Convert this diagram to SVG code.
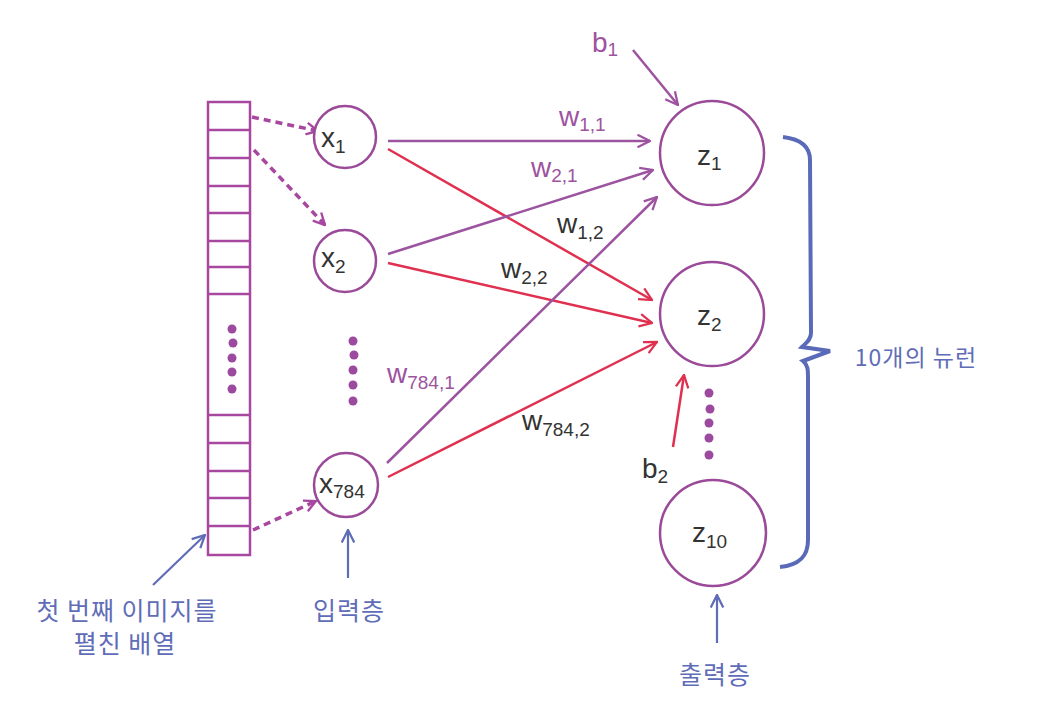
<svg xmlns="http://www.w3.org/2000/svg" width="1048" height="728" viewBox="0 0 1048 728">
<defs>
<style>
.node{fill:#fff;stroke:#9a4a98;stroke-width:2.5}
.cell{fill:none;stroke:#a8479f;stroke-width:2.5}
.pl{stroke:#9c53a0;stroke-width:2.5;fill:none}
.rl{stroke:#e0304f;stroke-width:2.5;fill:none}
.bl{stroke:#5f6db8;stroke-width:2.2;fill:none}
.dash{stroke:#a8479f;stroke-width:3.5;fill:none;stroke-dasharray:7 5}
.dot{fill:#9c4aa0}
.t{font-family:"Liberation Sans",Arial,sans-serif;font-size:28px;fill:#333}
.s{font-size:19px}
.tp{fill:#9c53a0}
.kr{font-family:"Noto Sans CJK KR","Noto Sans",sans-serif;font-size:25px;fill:#5f6db8;text-anchor:middle;letter-spacing:1px}
</style>
<marker id="ap" viewBox="0 0 12 12" refX="11" refY="6" markerWidth="15" markerHeight="15" markerUnits="userSpaceOnUse" orient="auto"><path d="M1,1 L11,6 L1,11" fill="none" stroke="#9c53a0" stroke-width="1.8"/></marker>
<marker id="ar" viewBox="0 0 12 12" refX="11" refY="6" markerWidth="15" markerHeight="15" markerUnits="userSpaceOnUse" orient="auto"><path d="M1,1 L11,6 L1,11" fill="none" stroke="#e0304f" stroke-width="1.8"/></marker>
<marker id="ab" viewBox="0 0 12 12" refX="11" refY="6" markerWidth="15" markerHeight="15" markerUnits="userSpaceOnUse" orient="auto"><path d="M1,1 L11,6 L1,11" fill="none" stroke="#5f6db8" stroke-width="1.8"/></marker>
<marker id="ad" viewBox="0 0 12 12" refX="11" refY="6" markerWidth="14" markerHeight="14" markerUnits="userSpaceOnUse" orient="auto"><path d="M1,1 L11,6 L1,11" fill="none" stroke="#a8479f" stroke-width="2"/></marker>
</defs>
<rect width="1048" height="728" fill="#fff"/>

<g id="array">
<rect class="cell" x="208" y="102" width="42" height="453"/>
<path class="cell" d="M208,130H250M208,158H250M208,186H250M208,213H250M208,241H250M208,267H250M208,294H250M208,415H250M208,443H250M208,471H250M208,498H250M208,526H250"/>
<circle class="dot" cx="232" cy="329" r="4.5"/>
<circle class="dot" cx="233" cy="343" r="4.5"/>
<circle class="dot" cx="232" cy="358" r="4.5"/>
<circle class="dot" cx="232" cy="372" r="4.5"/>
<circle class="dot" cx="232" cy="389" r="4.5"/>
</g>

<g id="connectors">
<path class="dash" d="M252,117 L318,131" marker-end="url(#ad)"/>
<path class="dash" d="M254,150 L325,225" marker-end="url(#ad)"/>
<path class="dash" d="M253,530 L316,501" marker-end="url(#ad)"/>
<path class="pl" d="M388,141 L650,141" marker-end="url(#ap)"/>
<path class="rl" d="M388,149 L652,300" marker-end="url(#ar)"/>
<path class="pl" d="M388,254 L653,170" marker-end="url(#ap)"/>
<path class="rl" d="M388,263 L652,323" marker-end="url(#ar)"/>
<path class="pl" d="M387,463 L657,197" marker-end="url(#ap)"/>
<path class="rl" d="M388,477 L657,342" marker-end="url(#ar)"/>
<path class="pl" d="M633,50 L678,105" marker-end="url(#ap)"/>
<path class="rl" d="M673,447 L684,375" marker-end="url(#ar)"/>
<path class="bl" d="M153,585 L205,535" marker-end="url(#ab)"/>
<path class="bl" d="M348,578 L348,530" marker-end="url(#ab)"/>
<path class="bl" d="M717,643 L717,595" marker-end="url(#ab)"/>
<path d="M783,137 C800,139 810,146 810,160 L811,333 C811,340 806,343 802,347 L830,351 L803,361 C808,365 808,370 808,378 L808,540 C808,556 800,565 780,567" fill="none" stroke="#5a6ab8" stroke-width="4" stroke-linejoin="miter"/>
</g>

<g id="x1"><circle class="node" cx="345" cy="137" r="31"/><text class="t" x="321" y="147">x<tspan class="s" dy="6">1</tspan></text></g>
<g id="x2"><circle class="node" cx="345" cy="261" r="31"/><text class="t" x="321" y="267">x<tspan class="s" dy="6">2</tspan></text></g>
<g id="input-dots">
<circle class="dot" cx="353" cy="341" r="4.5"/>
<circle class="dot" cx="354" cy="355" r="4.5"/>
<circle class="dot" cx="353" cy="370" r="4.5"/>
<circle class="dot" cx="353" cy="385" r="4.5"/>
<circle class="dot" cx="353" cy="401" r="4.5"/>
</g>
<g id="x784"><circle class="node" cx="346" cy="485" r="32"/><text class="t" x="319" y="493">x<tspan class="s" dy="5">784</tspan></text></g>

<g id="z1"><circle class="node" cx="712" cy="153" r="52"/><text class="t" x="697" y="165">z<tspan class="s" dy="5">1</tspan></text></g>
<g id="z2"><circle class="node" cx="712" cy="314" r="52"/><text class="t" x="697" y="325">z<tspan class="s" dy="6">2</tspan></text></g>
<g id="output-dots">
<circle class="dot" cx="709" cy="393" r="4.5"/>
<circle class="dot" cx="710" cy="409" r="4.5"/>
<circle class="dot" cx="709" cy="423" r="4.5"/>
<circle class="dot" cx="709" cy="438" r="4.5"/>
<circle class="dot" cx="709" cy="455" r="4.5"/>
</g>
<g id="z10"><circle class="node" cx="713" cy="533" r="53"/><text class="t" x="692" y="542">z<tspan class="s" dy="6">10</tspan></text></g>

<g id="labels">
<text class="t tp" x="592" y="52">b<tspan class="s" dy="4">1</tspan></text>
<text class="t" x="642" y="478">b<tspan class="s" dy="5">2</tspan></text>
<text class="t tp" x="559" y="126">w<tspan class="s" dy="5">1,1</tspan></text>
<text class="t tp" x="531" y="177">w<tspan class="s" dy="5">2,1</tspan></text>
<text class="t" x="557" y="233">w<tspan class="s" dy="6">1,2</tspan></text>
<text class="t" x="501" y="278">w<tspan class="s" dy="6">2,2</tspan></text>
<text class="t tp" x="387" y="383">w<tspan class="s" dy="6">784,1</tspan></text>
<text class="t" x="522" y="430">w<tspan class="s" dy="6">784,2</tspan></text>
<text class="kr" x="916" y="366" style="font-size:23px">10개의 뉴런</text>
<text class="kr" x="127" y="620">첫 번째 이미지를</text>
<text class="kr" x="125" y="653">펼친 배열</text>
<text class="kr" x="349" y="620">입력층</text>
<text class="kr" x="715" y="684">출력층</text>
</g>
</svg>
